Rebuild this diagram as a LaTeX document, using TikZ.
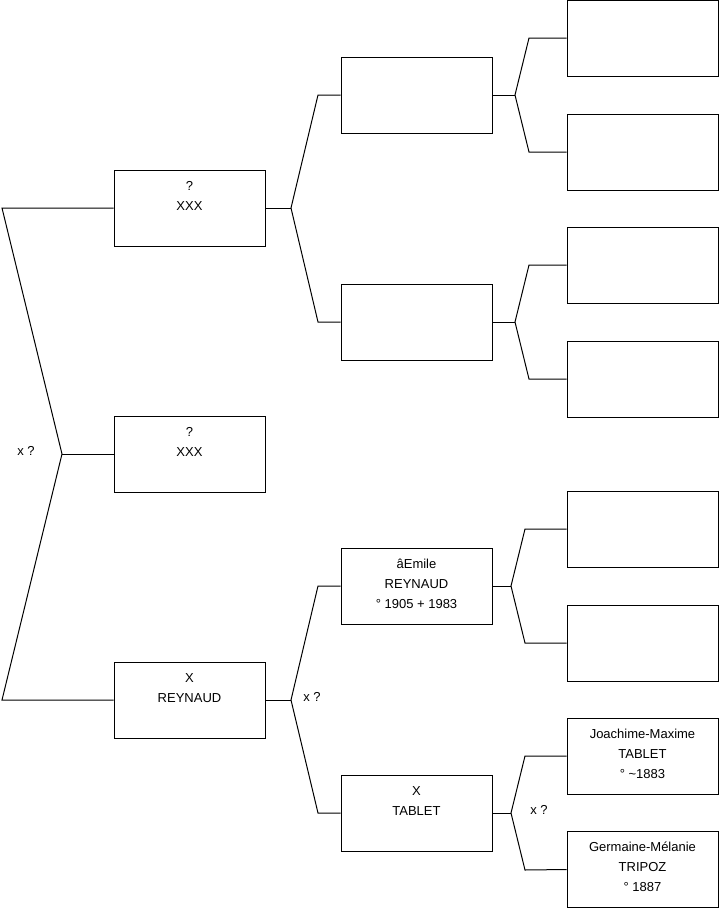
\documentclass[tikz,border=0pt]{standalone}
\usepackage{fontspec}
\setmainfont{Liberation Sans}
\begin{document}
\begin{tikzpicture}[x=1pt,y={(0pt,-1pt)},
  every node/.style={font=\fontsize{13}{20}\selectfont},
  box/.style={draw=black, line width=1pt, minimum width=151pt, minimum height=76pt, inner sep=0pt, fill=white},
  txt/.style={anchor=north, inner sep=0pt, align=center, yshift=-6.7pt},
  conn/.style={draw=black, line width=1pt},
  lab/.style={inner sep=0pt}]
\useasboundingbox (0,0) rectangle (719,908);
% column 1
\node[box] (b1) at (189.5,208) {};
\node[box] (b2) at (189.5,454) {};
\node[box] (b3) at (189.5,700) {};
% column 2
\node[box] (c1) at (416.5,95) {};
\node[box] (c2) at (416.5,322) {};
\node[box] (c3) at (416.5,586) {};
\node[box] (c4) at (416.5,813) {};
% column 3
\node[box] (d1) at (642.5,38) {};
\node[box] (d2) at (642.5,152) {};
\node[box] (d3) at (642.5,265) {};
\node[box] (d4) at (642.5,379) {};
\node[box] (d5) at (642.5,529) {};
\node[box] (d6) at (642.5,643) {};
\node[box] (d7) at (642.5,756) {};
\node[box] (d8) at (642.5,869.5) {};
% texts
\node[txt] (tb1) at (b1.north) {\strut ?\\XXX};
\node[txt] (tb2) at (b2.north) {\strut ?\\XXX};
\node[txt] (tb3) at (b3.north) {\strut X\\REYNAUD};
\node[txt] (tc3) at (c3.north) {\strut âEmile\\REYNAUD\\° 1905 + 1983};
\node[txt] (tc4) at (c4.north) {\strut X\\TABLET};
\node[txt] (td7) at (d7.north) {\strut Joachime-Maxime\\TABLET\\° \textasciitilde1883};
\node[txt] (td8) at (d8.north) {\strut Germaine-Mélanie\\TRIPOZ\\° 1887};
% fork 0
\coordinate (f0) at (62,454);
\coordinate (f0a) at (2,208);
\coordinate (f0b) at (2,700);
\draw[conn] (b1.west) -- (f0a) -- (f0) -- (f0b) -- (b3.west);
\draw[conn] (f0) -- (b2.west);
\node[lab] (x0) at (26,451) {x ?};
% fork 1
\coordinate (f1) at (291,208);
\coordinate (f1a) at (318,95);
\coordinate (f1b) at (318,322);
\draw[conn] (b1.east) -- (f1);
\draw[conn] (c1.west) -- (f1a) -- (f1) -- (f1b) -- (c2.west);
% fork 2
\coordinate (f2) at (291,700);
\coordinate (f2a) at (318,586);
\coordinate (f2b) at (318,813);
\draw[conn] (b3.east) -- (f2);
\draw[conn] (c3.west) -- (f2a) -- (f2) -- (f2b) -- (c4.west);
\node[lab] (x2) at (312,697) {x ?};
% fork c1
\coordinate (g1) at (515,95);
\coordinate (g1a) at (529,38);
\coordinate (g1b) at (529,152);
\draw[conn] (c1.east) -- (g1);
\draw[conn] (d1.west) -- (g1a) -- (g1) -- (g1b) -- (d2.west);
% fork c2
\coordinate (g2) at (515,322);
\coordinate (g2a) at (529,265);
\coordinate (g2b) at (529,379);
\draw[conn] (c2.east) -- (g2);
\draw[conn] (d3.west) -- (g2a) -- (g2) -- (g2b) -- (d4.west);
% fork c3
\coordinate (g3) at (511,586);
\coordinate (g3a) at (525,529);
\coordinate (g3b) at (525,643);
\draw[conn] (c3.east) -- (g3);
\draw[conn] (d5.west) -- (g3a) -- (g3) -- (g3b) -- (d6.west);
% fork c4
\coordinate (g4) at (511,813);
\coordinate (g4a) at (525,756);
\coordinate (g4b) at (525,870);
\draw[conn] (c4.east) -- (g4);
\draw[conn] (d7.west) -- (g4a) -- (g4) -- (g4b) -- (d8.west);
\node[lab] (x4) at (539,810) {x ?};
\end{tikzpicture}
\end{document}
